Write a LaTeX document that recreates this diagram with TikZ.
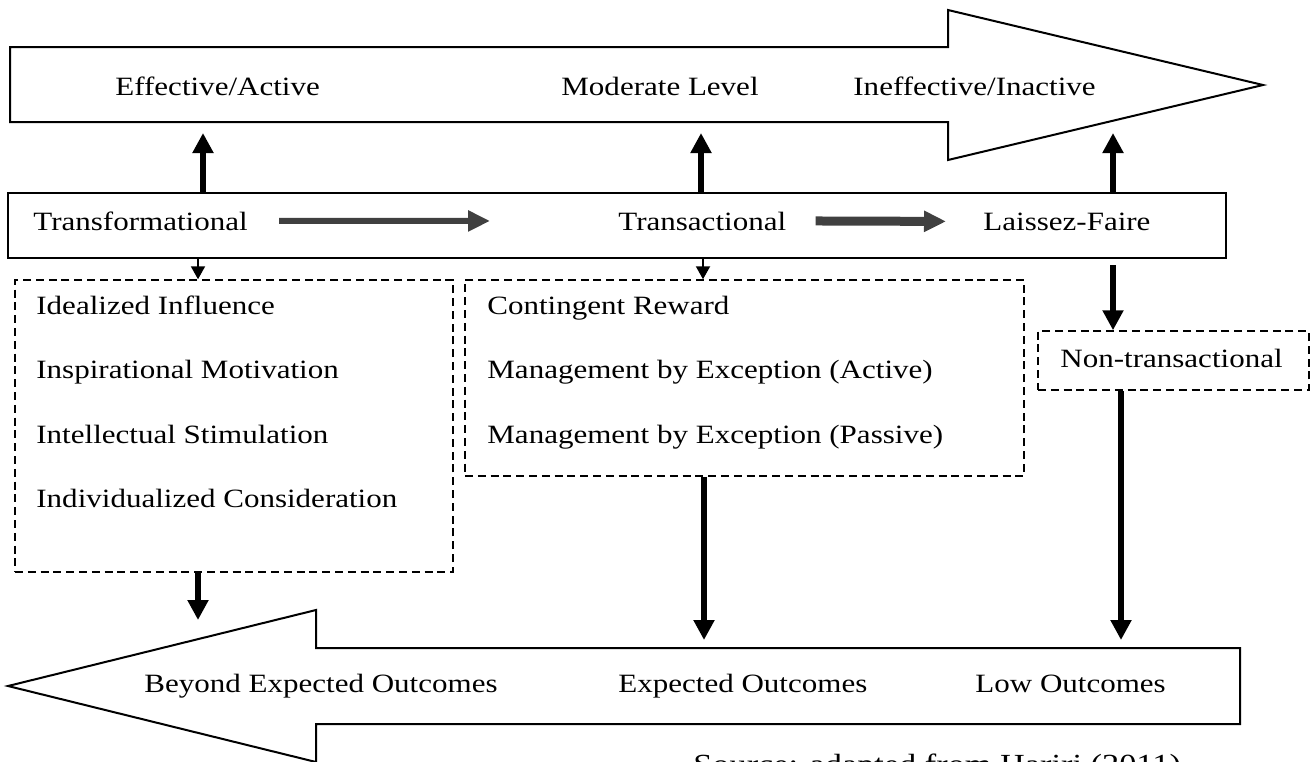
\documentclass[tikz,border=0pt]{standalone}
\usepackage{fontspec}
\setmainfont{Liberation Serif}[FakeStretch=1.175]
\usetikzlibrary{arrows.meta}
\begin{document}
\begin{tikzpicture}[x=0.5pt, y=-0.5pt, line join=miter,
    lbl/.style={anchor=base west, inner sep=0pt, font=\fontsize{13.2}{15}\selectfont},
    solidbox/.style={draw, line width=1pt, inner sep=0pt},
    dashbox/.style={draw, line width=0.75pt, dash pattern=on 4pt off 2.4pt, inner sep=0pt},
    bigtip/.style={line width=2.8pt, -{Triangle[length=10pt,width=10pt]}},
    smalltip/.style={line width=1pt, -{Triangle[length=6.5pt,width=7pt]}},
    grayarr/.style={draw=black!75, line width=#1, -{Triangle[length=11pt,width=10pt]}}]
    \useasboundingbox (0,0) rectangle (1310,761);
    \clip (0,0) rectangle (1310,761);
    \draw[line width=1pt] (10,47) -- (948,47) -- (948,10) -- (1263,85) -- (948,160) -- (948,122) -- (10,122) -- cycle;
    \draw[line width=1pt] (1240,648) -- (316,648) -- (316,610) -- (8,686) -- (316,762) -- (316,724) -- (1240,724) -- cycle;
    \node[lbl] (ea) at (115,95) {Effective/Active};
    \node[lbl] (ml) at (561,95) {Moderate Level};
    \node[lbl] (ia) at (853,95) {Ineffective/Inactive};
    \node[solidbox, minimum width=609pt, minimum height=32.5pt] (mbox) at (617,225.5) {};
    \node[lbl] (trf) at (33,230) {Transformational};
    \node[lbl] (trc) at (618,230) {Transactional};
    \node[lbl] (lf) at (983,230) {Laissez-Faire};
    \node[dashbox, minimum width=219pt, minimum height=146pt] (tfbox) at (234,426) {};
    \foreach \t [count=\i] in {{Idealized Influence}, {Inspirational Motivation}, {Intellectual Stimulation}, {Individualized Consideration}}
        \node[lbl] (tf\i) at (36,249.5+64.5*\i) {\t};
    \node[dashbox, minimum width=279.5pt, minimum height=98pt] (tcbox) at (744.5,378) {};
    \foreach \t [count=\i] in {{Contingent Reward}, {Management by Exception (Active)}, {Management by Exception (Passive)}}
        \node[lbl] (tc\i) at (487,249.5+64.5*\i) {\t};
    \node[dashbox, minimum width=135.5pt, minimum height=29.5pt] (ntbox) at (1173.5,360.5) {};
    \node[lbl] (nt) at (1060,367) {Non-transactional};
    \node[lbl] (beo) at (144,692) {Beyond Expected Outcomes};
    \node[lbl] (exo) at (618,692) {Expected Outcomes};
    \node[lbl] (low) at (975,692) {Low Outcomes};
    \node[lbl, font=\fontsize{14.6}{17}\selectfont] (src) at (693,774) {Source: adapted from Hariri (2011)};
    \coordinate (e1) at (203,133);
    \coordinate (e2) at (701,133);
    \coordinate (e3) at (1113,133);
    \foreach \c in {e1,e2,e3} \draw[bigtip] (mbox.north -| \c) -- (\c);
    \path (tfbox.north) ++(-36,0) coordinate (d1);
    \path (tcbox.north) ++(-41.5,0) coordinate (d2);
    \path (ntbox.north) ++(-60.5,0) coordinate (d3);
    \foreach \c in {d1,d2} \draw[smalltip] (mbox.south -| \c) -- (\c);
    \draw[bigtip, shorten <=3pt] (mbox.south -| d3) -- (d3);
    \coordinate (o1) at (198,620);
    \coordinate (o2) at (704,640);
    \coordinate (o3) at (1121,640);
    \foreach \b/\c in {tfbox/o1, tcbox/o2, ntbox/o3} \draw[bigtip] (\b.south -| \c) -- (\c);
    \draw[grayarr=3pt] ([xshift=15.5pt]trf.east) -- ([xshift=-64pt]trc.west);
    \draw[grayarr=4.5pt] ([xshift=14.5pt]trc.east) -- ([xshift=-18.5pt]lf.west);
\end{tikzpicture}
\end{document}
